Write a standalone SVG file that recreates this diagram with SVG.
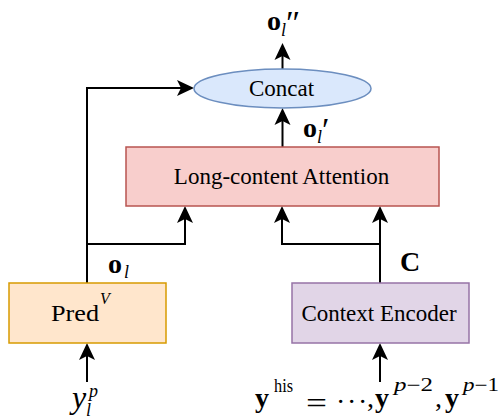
<svg xmlns="http://www.w3.org/2000/svg" width="500" height="419" viewBox="0 0 500 419">
<defs>
<marker id="arr" markerUnits="userSpaceOnUse" markerWidth="18" markerHeight="18" viewBox="0 0 18 18" refX="4" refY="9" orient="auto">
<path d="M17,9 L0,1 L4,9 L0,17 Z" fill="#000"/>
</marker>
<style>
.lbl{font-family:"Liberation Serif","Times New Roman",serif;font-size:23px;fill:#000}
.m{font-family:"Liberation Serif","Times New Roman",serif;fill:#000}
.b{font-weight:bold;font-size:28px}
.it{font-style:italic}
.sub{font-size:18px}
.pr{font-size:34px}
.conn{fill:none;stroke:#000;stroke-width:2}
.arrow{marker-end:url(#arr)}
</style>
</defs>
<rect width="500" height="419" fill="#fff"/>
<g id="connectors">
<path class="conn arrow" d="M87,283 L87,88 L181,88"/>
<path class="conn arrow" d="M87,244 L185,244 L185,219"/>
<path class="conn arrow" d="M380,283 L380,219"/>
<path class="conn arrow" d="M380,244 L282,244 L282,219"/>
<path class="conn arrow" d="M282.5,147 L282.5,121"/>
<path class="conn arrow" d="M282.5,69 L282.5,56"/>
<path class="conn arrow" d="M87,382 L87,356"/>
<path class="conn arrow" d="M380,382 L380,356"/>
</g>
<g id="concat">
<ellipse cx="282.5" cy="88.5" rx="88.5" ry="19.5" fill="#dae8fc" stroke="#6c8ebf" stroke-width="1.5"/>
<text class="lbl" x="281.5" y="95.5" text-anchor="middle">Concat</text>
</g>
<g id="attention">
<rect x="126" y="147" width="313" height="59" fill="#f8cecc" stroke="#b85450" stroke-width="1.5"/>
<text class="lbl" x="281.5" y="183.5" text-anchor="middle">Long-content Attention</text>
</g>
<g id="pred">
<rect x="9" y="283" width="157" height="60" fill="#ffe6cc" stroke="#d79b00" stroke-width="1.5"/>
<text class="m" x="51" y="321" font-size="24"><tspan textLength="48" lengthAdjust="spacingAndGlyphs">Pred</tspan><tspan class="it" x="100" y="304" font-size="16">V</tspan></text>
</g>
<g id="context-encoder">
<rect x="292" y="283" width="177" height="60" fill="#e1d5e7" stroke="#9673a6" stroke-width="1.5"/>
<text class="lbl" x="379" y="321" text-anchor="middle">Context Encoder</text>
</g>
<g id="labels">
<text class="m" x="267" y="30"><tspan class="b">o</tspan><tspan class="it sub" x="281" y="36">l</tspan><tspan class="pr" x="286" y="34">″</tspan></text>
<text class="m" x="303" y="137"><tspan class="b">o</tspan><tspan class="it sub" x="317" y="143">l</tspan><tspan class="pr" x="322" y="141">′</tspan></text>
<text class="m" x="108" y="273"><tspan class="b">o</tspan><tspan class="it sub" x="124" y="278">l</tspan></text>
<text class="m b" x="400" y="271" font-size="22">C</text>
<text class="m" x="72" y="408"><tspan class="it" font-size="32">y</tspan><tspan class="it sub" x="86" y="416">l</tspan><tspan class="it sub" x="89" y="397">p</tspan></text>
<text class="m" x="255" y="407"><tspan class="b">y</tspan><tspan class="sub" x="274" y="392" textLength="19" lengthAdjust="spacingAndGlyphs">his</tspan><tspan x="306" y="413" font-size="30" textLength="21" lengthAdjust="spacingAndGlyphs">=</tspan><tspan x="336 347 358" y="411" font-size="28">···</tspan><tspan x="367" y="407" font-size="28">,</tspan><tspan class="b" x="375" y="407">y</tspan><tspan class="sub" x="394" y="391" font-size="20" textLength="39" lengthAdjust="spacingAndGlyphs"><tspan class="it">p</tspan>−2</tspan><tspan x="435" y="407" font-size="28">,</tspan><tspan class="b" x="445" y="407">y</tspan><tspan class="sub" x="463" y="391" font-size="20" textLength="36" lengthAdjust="spacingAndGlyphs"><tspan class="it">p</tspan>−1</tspan></text>
</g>
</svg>
